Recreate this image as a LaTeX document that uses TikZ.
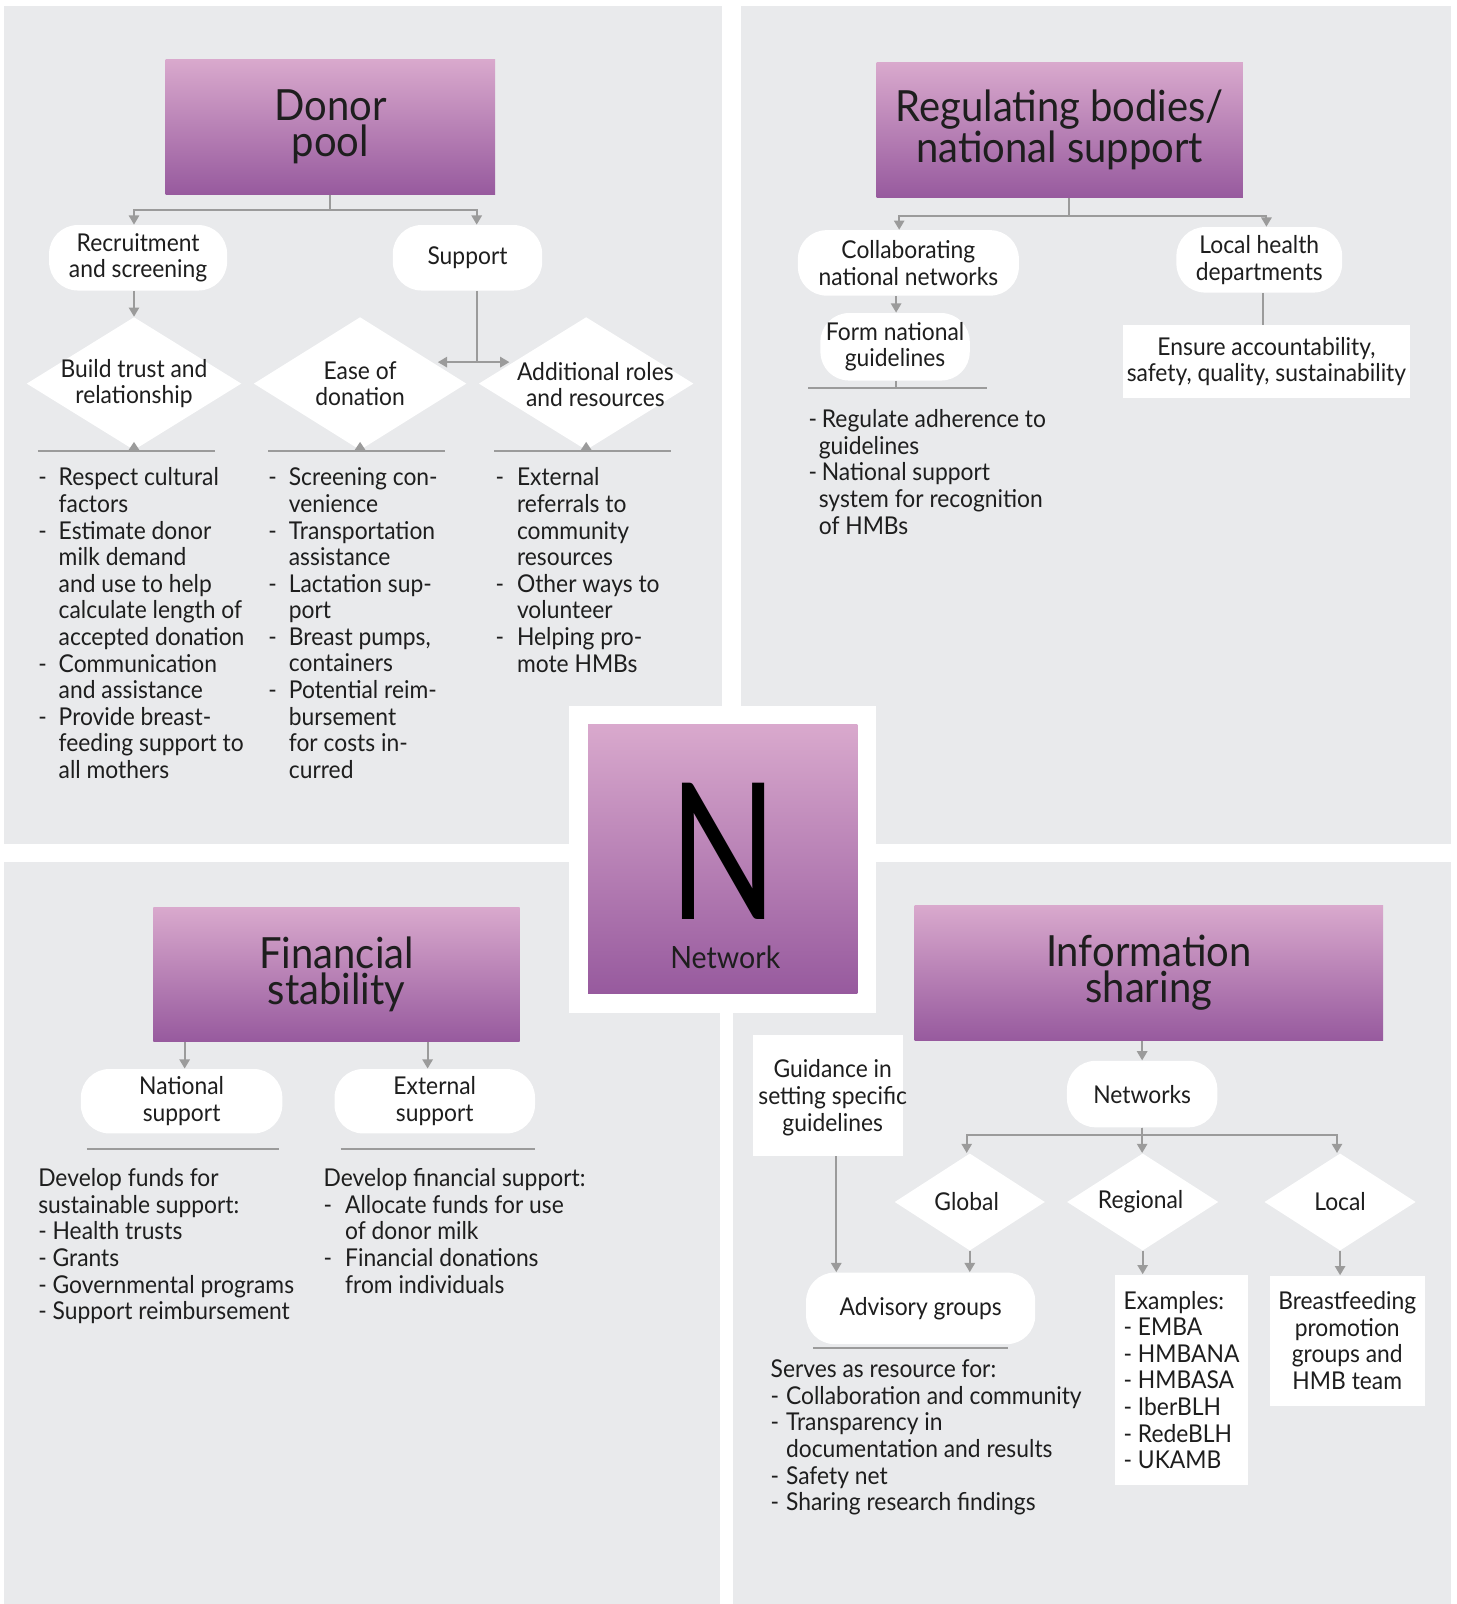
\documentclass[tikz,border=0pt]{standalone}
\usepackage{fontspec}
\usepackage{graphicx}
\setmainfont{Lato}[FakeStretch=0.93]
\usetikzlibrary{arrows.meta,shapes.geometric,calc}

\definecolor{panel}{RGB}{233,234,236}
\definecolor{ptop}{RGB}{217,169,205}
\definecolor{pbot}{RGB}{151,90,158}
\definecolor{lc}{RGB}{155,155,155}
\definecolor{ink}{RGB}{30,30,30}

% list helpers: a dash in a fixed-width slot, and the matching hanging indent
\newcommand\lsdash[1]{\makebox[#1][l]{-}}
\newcommand\lsind[1]{\hspace*{#1}}

\tikzset{
  bodytext/.style={font=\fontsize{12}{13}\selectfont, text=ink},
  headbox/.style={font=\fontsize{21}{17.5}\selectfont, align=center, inner sep=0pt,
                  top color=ptop, bottom color=pbot, text=ink},
  pill/.style={fill=white, rounded corners=14pt, align=center, inner sep=0pt, bodytext},
  wbox/.style={fill=white, align=center, inner sep=0pt, bodytext},
  dia/.style={diamond, fill=white, inner sep=0pt},
  conn/.style={draw=lc, line width=1pt},
  arr/.style={conn, -{Triangle[width=5pt,length=4.5pt]}},
  listtext/.style={bodytext, align=left, anchor=north west, inner sep=0pt},
}

\begin{document}
\begin{tikzpicture}[x=0.5pt,y=-0.5pt]
\useasboundingbox (0,0) rectangle (1424,1568);
\fill[white] (0,0) rectangle (1424,1568);

% quadrant panels
\fill[panel] (4,6) rectangle (706,825);
\fill[panel] (724,6) rectangle (1418,825);
\fill[panel] (4,843) rectangle (704,1568);
\fill[panel] (717,843) rectangle (1418,1568);
\fill[white] (556,690) rectangle (856,990);

% ---------- centre ----------
\node[headbox, minimum width=131.5pt, minimum height=131.5pt] (nw) at (706.5,839.5) {};
\node[font=\fontsize{93}{93}\selectfont, text=black, inner sep=0pt] (nwN) at (707,832) {\scalebox{0.8}[1]{N}};
\node[font=\fontsize{15}{15}\selectfont, text=ink] (nwL) at (709,936) {Network};

% ---------- donor pool ----------
\node[headbox, minimum width=161pt, minimum height=66pt] (dp) at (323,124) {Donor\\pool};
\node[pill, minimum width=87pt, minimum height=32pt] (rs) at (135,252) {Recruitment\\and screening};
\node[pill, minimum width=73pt, minimum height=32pt] (sup) at (457,252) {Support};

\node[dia, minimum width=105pt, minimum height=65pt] (d1) at (131,375) {};
\node[bodytext, align=center] (d1t) at (d1) {Build trust and\\relationship};
\node[dia, minimum width=104pt, minimum height=65pt] (d2) at (352,375) {};
\node[bodytext, align=center] (d2t) at (d2) {Ease of\\donation};
\node[dia, minimum width=105pt, minimum height=65pt] (d3) at (573,375) {};
\node[bodytext, align=center] (d3t) at (582,376) {Additional roles\\and resources};

\draw[arr] (dp.south) -- ++(0,15) -| ([xshift=-2pt]rs.north);
\draw[arr] (dp.south) -- ++(0,15) -| ([xshift=4.5pt]sup.north);
\draw[arr] (rs.south -| d1.north) -- (d1.north);
\coordinate (sj) at (466,354);
\coordinate (sl) at (428,354);
\coordinate (sr) at (498,354);
\draw[conn] ([xshift=4.5pt]sup.south) -- (sj);
\draw[arr] (sj) -- (sl);
\draw[arr] (sj) -- (sr);

\draw[conn] (37,441) -- (210,441);
\draw[conn] (262,441) -- (435,441);
\draw[conn] (483,441) -- (656,441);
\fill[lc] (125,441) -- (131,432) -- (137,441) -- cycle;
\fill[lc] (346,441) -- (352,432) -- (358,441) -- cycle;
\fill[lc] (567,441) -- (573,432) -- (579,441) -- cycle;

\node[listtext] (t1) at (37,457) {%
\lsdash{10pt}Respect cultural\\\lsind{10pt}factors\\
\lsdash{10pt}Estimate donor\\\lsind{10pt}milk demand\\\lsind{10pt}and use to help\\\lsind{10pt}calculate length of\\\lsind{10pt}accepted donation\\
\lsdash{10pt}Communication\\\lsind{10pt}and assistance\\
\lsdash{10pt}Provide breast-\\\lsind{10pt}feeding support to\\\lsind{10pt}all mothers};
\node[listtext] (t2) at (262,457) {%
\lsdash{10pt}Screening con-\\\lsind{10pt}venience\\
\lsdash{10pt}Transportation\\\lsind{10pt}assistance\\
\lsdash{10pt}Lactation sup-\\\lsind{10pt}port\\
\lsdash{10pt}Breast pumps,\\\lsind{10pt}containers\\
\lsdash{10pt}Potential reim-\\\lsind{10pt}bursement\\\lsind{10pt}for costs in-\\\lsind{10pt}curred};
\node[listtext] (t3) at (484,457) {%
\lsdash{10.5pt}External\\\lsind{10.5pt}referrals to\\\lsind{10.5pt}community\\\lsind{10.5pt}resources\\
\lsdash{10.5pt}Other ways to\\\lsind{10.5pt}volunteer\\
\lsdash{10.5pt}Helping pro-\\\lsind{10.5pt}mote HMBs};

% ---------- regulating bodies ----------
\node[headbox, minimum width=179pt, minimum height=66pt] (rb) at (1036,127) {Regulating bodies/\\national support};
\node[pill, minimum width=108pt, minimum height=32pt] (cn) at (888,257) {Collaborating\\national networks};
\node[pill, minimum width=81pt, minimum height=32pt] (lh) at (1231,254) {Local health\\departments};
\node[pill, minimum width=73pt, minimum height=33pt] (fn) at (875,339) {Form national\\guidelines};
\node[wbox, minimum width=140pt, minimum height=35.5pt] (eab) at (1238,353.5) {};
\node[bodytext, align=center] (eabt) at (eab) {Ensure accountability,\\safety, quality, sustainability};

\draw[arr] ([xshift=4.5pt]rb.south) -- ++(0,18) -| ([xshift=-4.5pt]cn.north);
\draw[arr] ([xshift=4.5pt]rb.south) -- ++(0,18) -| ([xshift=3.5pt]lh.north);
\draw[arr] ([xshift=0.5pt]fn.north |- cn.south) -- ([xshift=0.5pt]fn.north);
\draw[conn] ([xshift=0.5pt]fn.south) -- ++(0,7);
\draw[conn] (790,379) -- (965,379);
\draw[conn] ([xshift=2pt]lh.south) -- ([xshift=2pt]lh.south |- eab.north);

\node[listtext] (t4) at (790,400) {%
\lsdash{6.5pt}Regulate adherence to\\\lsind{5pt}guidelines\\
\lsdash{6.5pt}National support\\\lsind{5pt}system for recognition\\\lsind{5pt}of HMBs};

% ---------- financial stability ----------
\node[headbox, minimum width=179pt, minimum height=65.5pt] (fs) at (329,952.5) {Financial\\stability};
\node[pill, minimum width=98.5pt, minimum height=31.5pt] (ns) at (177.5,1076.5) {National\\support};
\node[pill, minimum width=98pt, minimum height=31.5pt] (es) at (425,1076.5) {External\\support};
\draw[arr] ([xshift=1.5pt]ns.north |- fs.south) -- ([xshift=1.5pt]ns.north);
\draw[arr] ([xshift=-3.5pt]es.north |- fs.south) -- ([xshift=-3.5pt]es.north);
\draw[conn] (85,1123) -- (273,1123);
\draw[conn] (333,1123) -- (523,1123);

\node[listtext] (t5) at (37,1142) {%
Develop funds for\\sustainable support:\\- Health trusts\\- Grants\\- Governmental programs\\- Support reimbursement};
\node[listtext] (t6) at (316,1142) {%
Develop financial support:\\
\lsdash{10.5pt}Allocate funds for use\\\lsind{10.5pt}of donor milk\\
\lsdash{10.5pt}Financial donations\\\lsind{10.5pt}from individuals};

% ---------- information sharing ----------
\node[headbox, minimum width=229pt, minimum height=66pt] (is) at (1123,951) {Information\\sharing};
\node[pill, minimum width=73.5pt, minimum height=32.5pt] (net) at (1116.5,1069.5) {Networks};
\node[wbox, minimum width=73.5pt, minimum height=59pt] (gd) at (809.5,1071) {};
\node[bodytext, align=center] (gdt) at (814,1073) {Guidance in\\setting specific\\guidelines};

\node[dia, minimum width=73.5pt, minimum height=47.5pt] (g1) at (948,1175) {};
\node[bodytext] (g1t) at (945,1175) {Global};
\node[dia, minimum width=74pt, minimum height=47.5pt] (g2) at (1117,1175) {};
\node[bodytext] (g2t) at (1115,1175) {Regional};
\node[dia, minimum width=74pt, minimum height=47.5pt] (g3) at (1310,1175) {};
\node[bodytext] (g3t) at (1310,1175) {Local};

\node[pill, minimum width=112pt, minimum height=35pt] (adv) at (900,1279) {Advisory groups};
\node[wbox, minimum width=65pt, minimum height=103pt, align=left] (ex) at (1155,1349)
  {Examples:\\- EMBA\\- HMBANA\\- HMBASA\\- IberBLH\\- RedeBLH\\- UKAMB};
\node[wbox, minimum width=76pt, minimum height=63.5pt] (bf) at (1317,1310.5)
  {Breastfeeding\\promotion\\groups and\\HMB team};

\draw[arr] (is.south -| net.north) -- (net.north);
\draw[arr] (net.south) -- ++(0,7) -| ([xshift=-1.5pt]g1.north);
\draw[arr] (net.south) -- (net.south |- g2.north);
\draw[arr] (net.south) -- ++(0,7) -| ([xshift=-1.5pt]g3.north);
\draw[arr] (g1.south) -- (g1.south |- adv.north);
\draw[arr] (g2.south) -- (g2.south |- ex.north);
\draw[arr] (g3.south) -- (g3.south |- bf.north);
\draw[arr] ([xshift=4pt]gd.south) -- ([xshift=4pt]gd.south |- adv.north);
\draw[conn] (795,1318) -- (985,1318);

\node[listtext] (t7) at (753,1329) {%
Serves as resource for:\\
\lsdash{7.5pt}Collaboration and community\\
\lsdash{7.5pt}Transparency in\\\lsind{7.5pt}documentation and results\\
\lsdash{7.5pt}Safety net\\
\lsdash{7.5pt}Sharing research findings};
\end{tikzpicture}
\end{document}
